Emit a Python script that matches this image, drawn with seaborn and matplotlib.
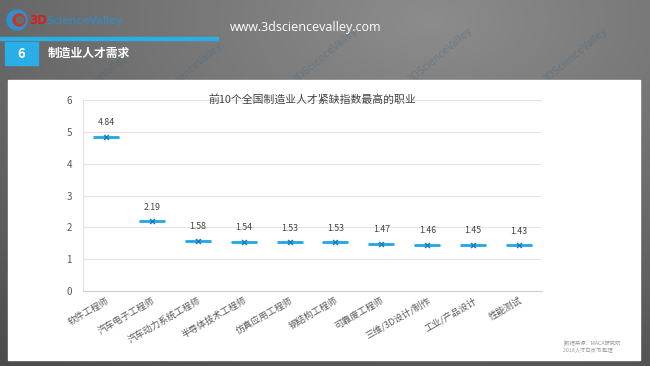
import numpy as np
import pandas as pd
import seaborn as sns
import matplotlib.pyplot as plt
from matplotlib.patches import Rectangle, Circle

sns.set_style("whitegrid")
plt.rcParams["font.family"] = ["Noto Sans CJK SC", "DejaVu Sans"]

# data
jobs = ["软件工程师", "汽车电子工程师", "汽车动力系统工程师", "半导体技术工程师",
        "仿真应用工程师", "钢结构工程师", "可靠度工程师", "三维/3D设计/制作",
        "工业/产品设计", "性能测试"]
index_values = [4.84, 2.19, 1.58, 1.54, 1.53, 1.53, 1.47, 1.46, 1.45, 1.43]
y_ticks = [0, 1, 2, 3, 4, 5, 6]

TITLE = "前10个全国制造业人才紧缺指数最高的职业"
LINE_BLUE = "#20a7e3"


def draw_slide(fig):
    # grey gradient background of the slide
    bg = fig.add_axes([0, 0, 1, 1], zorder=-10)
    xx, yy = np.meshgrid(np.linspace(0, 650, 260), np.linspace(0, 366, 150))
    dist = np.sqrt(((xx - 430) / 650) ** 2 + ((yy - 20) / 366) ** 2)
    grad = 0.55 - 0.22 * dist
    bg.imshow(np.dstack([grad] * 3), aspect="auto", extent=[0, 650, 366, 0])
    bg.set_xlim(0, 650)
    bg.set_ylim(366, 0)
    bg.axis("off")

    # watermarks (behind the white panel)
    for wx, wy in [(190, 70), (325, 55), (440, 55), (575, 55), (95, 82)]:
        bg.text(wx, wy, "3DScienceValley", rotation=40, fontsize=7,
                color="#2f5f80", alpha=0.3, ha="center", va="center",
                family="DejaVu Sans Condensed", zorder=0.5)

    # logo
    bg.add_patch(Circle((17, 20), 10, color="#2f8fcf"))
    bg.add_patch(Circle((19, 20), 6, color="#c0392b"))
    bg.add_patch(Circle((20, 20), 3.5, color="#6b6b6b"))
    bg.text(29, 21, "3D", color="#d0202a", fontsize=8.5, fontweight="bold",
            va="center", family="DejaVu Sans Condensed")
    bg.text(46, 21, "ScienceValley", color="#2a8fd0", fontsize=8,
            va="center", family="DejaVu Sans Condensed")
    bg.text(230, 27, "www.3dsciencevalley.com", color="white", fontsize=9,
            va="center", family="Open Sans")

    # header bar
    bg.add_patch(Rectangle((0, 37), 218, 3, color="#29aee8"))
    bg.add_patch(Rectangle((5, 42), 33, 23, color="#29aee8"))
    bg.text(21, 53.5, "6", color="white", fontsize=9.5, fontweight="bold",
            ha="center", va="center")
    bg.text(48, 53.5, "制造业人才需求", color="white", fontsize=8.5,
            fontweight="bold", va="center")

    # white panel
    bg.add_patch(Rectangle((8, 80), 632, 280, color="white", zorder=1))
    bg.text(563, 343, "|数据来源：MACA研究院", color="#9a9a9a", fontsize=3.8,
            va="center", zorder=2)
    bg.text(563, 350, "2018人才白皮书 整理", color="#9a9a9a", fontsize=3.8,
            va="center", zorder=2)


def main():
    fig = plt.figure(figsize=(6.5, 3.66), dpi=100)
    draw_slide(fig)

    ax = fig.add_axes([83 / 650, 1 - 291 / 366, 459 / 650, 191 / 366])
    ax.set_facecolor("none")

    df = pd.DataFrame({"job": jobs, "value": index_values})

    sns.scatterplot(data=df, x="job", y="value", marker="_", s=360,
                    color=LINE_BLUE, linewidth=2, ax=ax, zorder=3)
    sns.scatterplot(data=df, x="job", y="value", marker="x", s=12,
                    color="#1a7fbf", linewidth=1.2, ax=ax, zorder=4)

    for i, v in enumerate(index_values):
        ax.annotate(f"{v:.2f}", (i, v), xytext=(0, 7), textcoords="offset points",
                    ha="center", va="bottom", fontsize=6.3, color="#404040")

    ax.set_xlim(-0.5, len(jobs) - 0.5)
    ax.set_ylim(0, 6)
    ax.set_yticks(y_ticks)
    ax.set_xlabel("")
    ax.set_ylabel("")
    ax.grid(axis="x", visible=False)
    ax.grid(axis="y", color="#e3e3e3", linewidth=0.8)
    for side in ["top", "right"]:
        ax.spines[side].set_visible(False)
    ax.spines["left"].set_color("#e3e3e3")
    ax.spines["bottom"].set_color("#d0d0d0")
    ax.spines["left"].set_linewidth(0.8)
    ax.spines["bottom"].set_linewidth(0.8)

    ax.tick_params(axis="both", length=0, colors="#595959", labelsize=7)
    ax.tick_params(axis="y", pad=8)
    plt.setp(ax.get_xticklabels(), rotation=30, ha="right",
             rotation_mode="anchor", fontsize=6.6)

    ax.set_title(TITLE, fontsize=7.8, color="#404040", pad=-2)

    fig.savefig("out.png", dpi=100)


if __name__ == "__main__":
    main()
